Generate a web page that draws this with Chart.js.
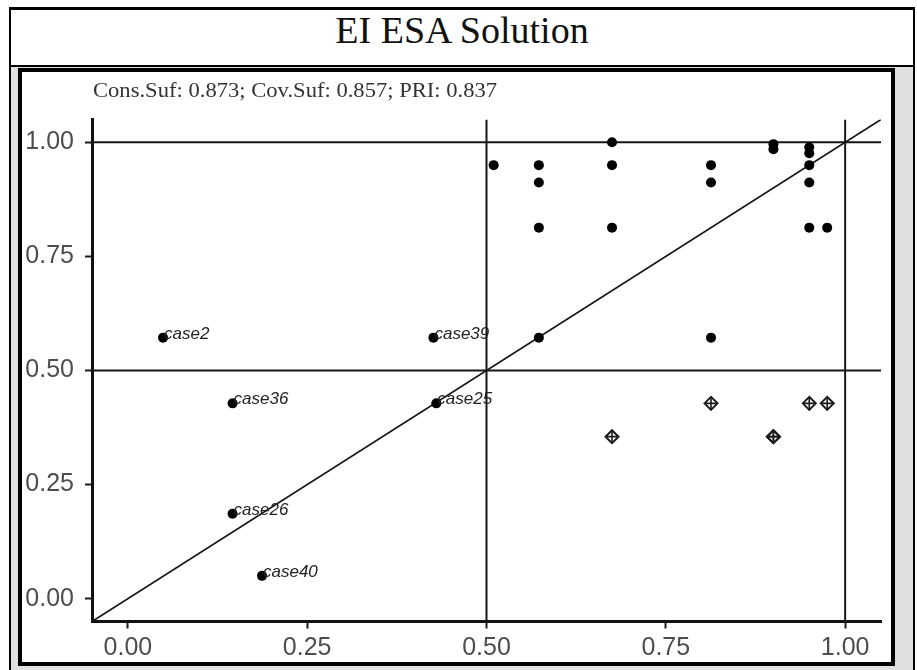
<!DOCTYPE html>
<html lang="en">
<head>
    <meta charset="UTF-8">
    <title>EI ESA Solution</title>
    <script src="https://cdn.jsdelivr.net/npm/chart.js"></script>
    <style>
        body { margin: 0; background: #fff; width: 917px; height: 670px; overflow: hidden; position: relative; }
        .frame { position: absolute; left: 9px; top: 7px; width: 906px; height: 670px; border: 2px solid #000; border-top-width: 3px; box-sizing: border-box; background: #e0e0e0; }
        .title-bar { position: absolute; left: 0; top: 0; right: 0; height: 55px; background: #fff; border-bottom: 2px solid #000; }
        .title { position: absolute; left: 0; right: 0; top: 0.5px; text-align: center; font-family: "Liberation Serif", "Times New Roman", serif; font-size: 38px; line-height: 38px; color: #111; }
        .plot-box { position: absolute; left: 18px; top: 68px; width: 877px; height: 598px; border: 4px solid #000; box-sizing: border-box; background: #fff; }
        .plot-box canvas { position: absolute; left: 0; top: 0; }
        .fit { position: absolute; left: 71px; top: 8px; font-family: "Liberation Serif", "Times New Roman", serif; font-size: 20px; line-height: 20px; color: #333; white-space: nowrap; transform: scaleX(1.13); transform-origin: left top; z-index: 2; }
    </style>
</head>
<body>
    <div class="frame">
        <div class="title-bar"><div class="title">EI ESA Solution</div></div>
    </div>
    <div class="plot-box">
        <div class="fit">Cons.Suf: 0.873; Cov.Suf: 0.857; PRI: 0.837</div>
        <canvas id="esaChart" width="869" height="590"></canvas>
    </div>

    <script>
        // axis setup
        const axisMin = -0.05;
        const axisMax = 1.05;
        const xTicks = [0, 0.25, 0.5, 0.75, 1];
        const yTicks = [0, 0.25, 0.5, 0.75, 1];
        const refX = [0.5, 1.0];
        const refY = [0.5, 1.0];

        // typical cases (solid dots, no label)
        const caseX = [0.675, 0.9, 0.9, 0.95, 0.95,
                       0.51, 0.573, 0.675, 0.813, 0.95,
                       0.573, 0.813, 0.95,
                       0.573, 0.675, 0.95, 0.975,
                       0.573, 0.813];
        const caseY = [1.0, 0.996, 0.985, 0.989, 0.976,
                       0.95, 0.95, 0.95, 0.95, 0.95,
                       0.912, 0.912, 0.912,
                       0.813, 0.813, 0.813, 0.813,
                       0.572, 0.572];

        // labelled cases
        const labelNames = ['case2', 'case39', 'case36', 'case25', 'case26', 'case40'];
        const labelX = [0.049, 0.426, 0.146, 0.43, 0.146, 0.187];
        const labelY = [0.572, 0.572, 0.428, 0.428, 0.186, 0.05];

        // deviant cases (diamond plus)
        const devX = [0.675, 0.813, 0.9, 0.9, 0.95, 0.975];
        const devY = [0.355, 0.428, 0.355, 0.355, 0.428, 0.428];

        const toPoints = (xs, ys) => xs.map((x, i) => ({ x: x, y: ys[i] }));

        const lineStyle = { type: 'line', showLine: true, pointRadius: 0, borderColor: '#161616', borderWidth: 2, fill: false };
        const refLines = [];
        refY.forEach(v => refLines.push(Object.assign({ data: [{ x: axisMin, y: v }, { x: axisMax, y: v }] }, lineStyle)));
        refX.forEach(v => refLines.push(Object.assign({ data: [{ x: v, y: axisMin }, { x: v, y: axisMax }] }, lineStyle)));
        refLines.push(Object.assign({}, lineStyle, { borderWidth: 1.7, data: [{ x: axisMin, y: axisMin }, { x: axisMax, y: axisMax }] }));

        const caseLabels = {
            id: 'caseLabels',
            afterDatasetsDraw(chart) {
                const ctx = chart.ctx;
                const xs = chart.scales.x, ys = chart.scales.y;
                ctx.save();
                ctx.font = 'italic 17px "Liberation Sans", Arial, sans-serif';
                ctx.fillStyle = '#222';
                ctx.textAlign = 'left';
                ctx.textBaseline = 'alphabetic';
                labelNames.forEach((name, i) => {
                    ctx.fillText(name, xs.getPixelForValue(labelX[i]) + 1, ys.getPixelForValue(labelY[i]) + 1);
                });
                ctx.restore();
            }
        };

        const tickFont = { family: '"Liberation Sans", Arial, sans-serif', size: 25 };
        const axisOpts = (ticks, fitFn, pad) => ({
            type: 'linear',
            min: axisMin,
            max: axisMax,
            afterBuildTicks: s => { s.ticks = ticks.map(v => ({ value: v })); },
            afterFit: fitFn,
            ticks: { callback: v => Number(v).toFixed(2), font: tickFont, color: '#4d4d4d', padding: pad, maxRotation: 0, autoSkip: false },
            grid: { display: true, drawOnChartArea: false, drawTicks: true, tickLength: 7, tickWidth: 2, tickColor: '#1a1a1a' },
            border: { display: true, color: '#111', width: 3 }
        });

        new Chart(document.getElementById('esaChart'), {
            type: 'scatter',
            data: {
                datasets: [
                    { data: toPoints(labelX, labelY), pointRadius: 5, pointBackgroundColor: '#000', pointBorderWidth: 0 },
                    { data: toPoints(caseX, caseY), pointRadius: 5, pointBackgroundColor: '#000', pointBorderWidth: 0 },
                    { data: toPoints(devX, devY), pointStyle: 'cross', pointRadius: 6, pointBorderColor: '#1a1a1a', pointBorderWidth: 1.6 },
                    { data: toPoints(devX, devY), pointStyle: 'rectRot', pointRadius: 6.5, pointBorderColor: '#1a1a1a', pointBackgroundColor: 'rgba(0,0,0,0)', pointBorderWidth: 2 },
                    ...refLines
                ]
            },
            options: {
                responsive: false,
                animation: false,
                devicePixelRatio: 1,
                layout: { padding: { left: 0, right: 10, top: 47.5, bottom: 0 } },
                plugins: { legend: { display: false }, tooltip: { enabled: false } },
                scales: {
                    x: axisOpts(xTicks, s => { s.height = 40.5; }, 5),
                    y: axisOpts(yTicks, s => { s.width = 70; }, 11)
                }
            },
            plugins: [caseLabels]
        });
    </script>
</body>
</html>
